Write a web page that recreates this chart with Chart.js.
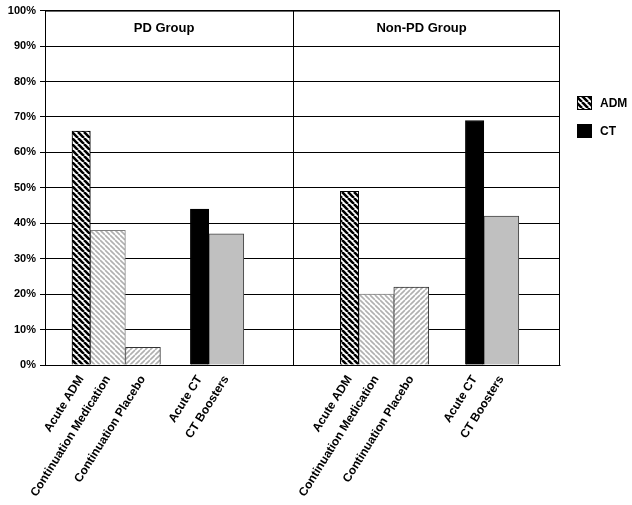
<!DOCTYPE html>
<html>
<head>
<meta charset="utf-8">
<script src="https://cdn.jsdelivr.net/npm/chart.js@4.4.0/dist/chart.umd.min.js"></script>
<style>
  html, body { margin: 0; padding: 0; background: #fff; }
  canvas { display: block; }
</style>
</head>
<body>
<canvas id="chart" width="632" height="505"></canvas>
<script>
const groups = ['PD Group', 'Non-PD Group'];
const categories = ['Acute ADM', 'Continuation Medication', 'Continuation Placebo', 'Acute CT', 'CT Boosters'];
const pdValues = [66, 38, 5, 44, 37];
const nonPdValues = [49, 20, 22, 69, 42];
const yTickValues = [0, 10, 20, 30, 40, 50, 60, 70, 80, 90, 100];
const legendNames = ['ADM', 'CT'];

// x layout in scale units (one unit is roughly one narrow bar)
const UNIT_PX = 17.5;
const barWidths = [1.05, 2, 2, 1.05, 2];
const panels = [
  { from: 0, to: 14.17, lead: 1.54, gap: 1.71 },
  { from: 14.17, to: 29.4, lead: 2.69, gap: 2.09 }
];

// bar centres per panel, built from the widths above
const centers = panels.map(p => {
  let x = p.from + p.lead;
  return barWidths.map((w, i) => {
    if (i === 3) x += p.gap;
    const c = x + w / 2;
    x += w;
    return c;
  });
});
const tickValues = centers.flat();
const tickLabels = groups.flatMap(() => categories);

function stripes(size, color, lw, down) {
  const c = document.createElement('canvas');
  c.width = c.height = size;
  const g = c.getContext('2d');
  g.fillStyle = '#fff';
  g.fillRect(0, 0, size, size);
  g.strokeStyle = color;
  g.lineWidth = lw;
  g.beginPath();
  for (let k = -1; k <= 1; k++) {
    if (down) { g.moveTo(k * size, 0); g.lineTo(k * size + size, size); }
    else { g.moveTo(k * size, size); g.lineTo(k * size + size, 0); }
  }
  g.stroke();
  return g.createPattern(c, 'repeat');
}

const admFill = stripes(6, '#000', 2.6, true);
const fills = [admFill, stripes(5, '#b0b0b0', 1.6, true), stripes(5, '#b0b0b0', 1.6, false), '#000', '#c0c0c0'];
const borders = ['#000', '#808080', '#333', '#000', '#444'];

const datasets = categories.map((name, i) => ({
  label: name,
  data: [
    { x: centers[0][i], y: pdValues[i] },
    { x: centers[1][i], y: nonPdValues[i] }
  ],
  backgroundColor: fills[i],
  borderColor: borders[i],
  borderWidth: 1,
  barThickness: barWidths[i] * UNIT_PX
}));

const font = { family: 'Liberation Sans', size: 11, weight: 'bold' };

const panelsPlugin = {
  id: 'panels',
  afterDatasetsDraw(chart) {
    const { ctx, chartArea: a, scales: { x, y } } = chart;
    ctx.save();
    ctx.strokeStyle = '#000';
    ctx.lineWidth = 1;
    // frame and divider
    ctx.strokeRect(a.left + 0.5, a.top + 0.5, a.right - a.left - 1, a.bottom - a.top);
    const dx = Math.round(x.getPixelForValue(panels[1].from)) + 0.5;
    ctx.beginPath();
    ctx.moveTo(dx, a.top);
    ctx.lineTo(dx, a.bottom);
    ctx.stroke();
    // panel titles
    ctx.fillStyle = '#000';
    ctx.font = 'bold 13px "Liberation Sans"';
    ctx.textAlign = 'center';
    ctx.textBaseline = 'middle';
    panels.forEach((p, i) => {
      const cx = (x.getPixelForValue(p.from) + x.getPixelForValue(p.to)) / 2;
      ctx.fillText(groups[i], cx - 5, y.getPixelForValue(95));
    });
    // legend
    ctx.textAlign = 'left';
    ctx.font = 'bold 12px "Liberation Sans"';
    const lx = a.right + 17;
    [admFill, '#000'].forEach((f, i) => {
      const ly = 96 + i * 28;
      ctx.fillStyle = f;
      ctx.fillRect(lx, ly, 15, 14);
      ctx.strokeRect(lx + 0.5, ly + 0.5, 14, 13);
      ctx.fillStyle = '#000';
      ctx.fillText(legendNames[i], lx + 23, ly + 7.5);
    });
    ctx.restore();
  }
};

new Chart(document.getElementById('chart'), {
  type: 'bar',
  data: { datasets },
  options: {
    responsive: false,
    animation: false,
    layout: { padding: { top: 10, right: 72, left: 0, bottom: 0 } },
    datasets: { bar: { grouped: false } },
    plugins: { legend: { display: false }, tooltip: { enabled: false } },
    scales: {
      x: {
        type: 'linear',
        min: 0,
        max: 29.4,
        offset: false,
        grid: { display: false },
        border: { display: true, color: '#808080' },
        afterBuildTicks: s => { s.ticks = tickValues.map(v => ({ value: v })); },
        afterFit: s => { s.height = 140; },
        ticks: {
          autoSkip: false,
          minRotation: 58,
          maxRotation: 58,
          padding: 0,
          color: '#000',
          font: { family: 'Liberation Sans', size: 12, weight: 'bold' },
          callback: (v, i) => tickLabels[i]
        }
      },
      y: {
        min: 0,
        max: 100,
        afterBuildTicks: s => { s.ticks = yTickValues.map(v => ({ value: v })); },
        afterFit: s => { s.width = 45; },
        grid: { color: '#000', tickLength: 5 },
        border: { color: '#000' },
        ticks: { color: '#000', font, padding: 4, callback: v => v + '%' }
      }
    }
  },
  plugins: [panelsPlugin]
});
</script>
</body>
</html>
